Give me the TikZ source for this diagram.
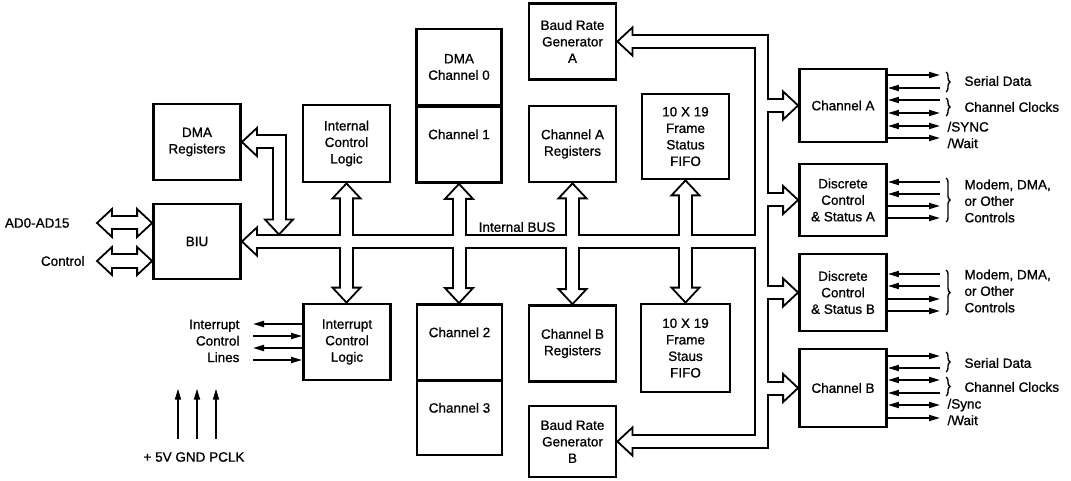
\documentclass[tikz,border=0pt]{standalone}
\usepackage{fontspec}
\setmainfont{Liberation Sans}[FakeBold=0.9]
\usetikzlibrary{calc,arrows.meta,decorations.pathreplacing}

\tikzset{
  blk/.style={draw, line width=2.8pt, minimum width=87pt, minimum height=76pt,
    align=center, inner sep=0pt},
  pipeout/.style={line width=15pt, line join=miter},
  pipein/.style={white, line width=11pt, line join=miter,
    shorten <=-3pt, shorten >=-3pt},
  wire/.style={line width=1.8pt, >={Triangle[length=11pt,width=6pt]}},
  brc/.style={decorate, decoration={brace, amplitude=4pt}, line width=1.4pt},
  fathead/.pic={\draw[fill=white, line width=1.8pt, line join=miter]
    (0,0) -- (-15,14) -- (-15,-14) -- cycle;},
}

% hollow bus arrows: called once for the outline, once for the inside
\newcommand\buspipes[1]{%
  \draw[#1] ($(biu.east)+(15,0)$) -- (biu.east -| rpipe);
  \draw[#1] ($(brga.east)+(15,0)$) -- (brga.east -| rpipe)
    -- (brgb.east -| rpipe) -- ($(brgb.east)+(15,0)$);
  \foreach \bx in {cha,dsa,dsb,chb}
    \draw[#1] (\bx.west -| rpipe) -- ($(\bx.west)+(-15,0)$);
  \foreach \hi/\lo in {icl/intl,ch1/ch2,chareg/chbreg,fifoa/fifob}
    \draw[#1] ($(\hi.south)+(0,15)$) -- ($(\hi.south |- \lo.north)+(0,-15)$);
  \draw[#1] ($(dmareg.east)+(15,0)$) -| ($(dmadrop)+(0,-15)$);
  \draw[#1] ($(adtip)+(15,0)$) -- ($(biu.west |- adtip)+(-15,0)$);
  \draw[#1] ($(cttip)+(15,0)$) -- ($(biu.west |- cttip)+(-15,0)$);
}

\begin{document}
\begin{tikzpicture}[x=1pt, y=-1pt, every node/.style={font=\fontsize{13.5}{16.5}\selectfont}]
  \useasboundingbox (0,0) rectangle (1071,481);

  % blocks
  \node[blk] (dmareg) at (197,142) {DMA\\Registers};
  \node[blk, minimum height=75pt] (biu) at (197,241.5) {BIU};
  \node[blk, minimum height=77pt] (icl) at (346.5,143.5) {Internal\\Control\\Logic};
  \node[blk, minimum width=85pt] (dma0) at (459,67) {DMA\\Channel 0};
  \node[blk, minimum width=85pt] (ch1) at (459,144.5) {Channel 1\\[4pt]};
  \node[blk] (brga) at (572.5,41.5) {Baud Rate\\Generator\\A};
  \node[blk] (chareg) at (572.5,144) {Channel A\\Registers};
  \node[blk, minimum height=85pt] (fifoa) at (685.5,136.5) {10 X 19\\Frame\\Status\\FIFO};
  \node[blk] (intl) at (347,342) {Interrupt\\Control\\Logic};
  \node[blk, minimum width=85pt] (ch2) at (459.5,342.5) {Channel 2\\[4pt]};
  \node[blk, minimum width=85pt, minimum height=74pt] (ch3) at (459.5,418) {Channel 3\\[4pt]};
  \node[blk] (chbreg) at (572.5,343.5) {Channel B\\Registers};
  \node[blk, minimum height=71pt] (brgb) at (572.5,441.5) {Baud Rate\\Generator\\B};
  \node[blk, minimum width=89pt, minimum height=88pt] (fifob) at (685.5,348) {10 X 19\\Frame\\Staus\\FIFO};
  \node[blk, minimum height=73pt] (cha) at (843,105.5) {Channel A};
  \node[blk, minimum height=72pt] (dsa) at (843,200) {Discrete\\Control\\\& Status A};
  \node[blk, minimum height=77pt] (dsb) at (843,292.5) {Discrete\\Control\\\& Status B};
  \node[blk, minimum height=78pt] (chb) at (843,388) {Channel B};

  \coordinate (rpipe) at (761,0);
  \coordinate (dmadrop) at (279,234.5);
  \coordinate (adtip) at (97,223);
  \coordinate (cttip) at (97,261);

  % internal bus
  \buspipes{pipeout}
  \pic[rotate=180] at (biu.east) {fathead};
  \pic[rotate=180] at (brga.east) {fathead};
  \pic[rotate=180] at (brgb.east) {fathead};
  \foreach \bx in {cha,dsa,dsb,chb} \pic at (\bx.west) {fathead};
  \foreach \hi/\lo in {icl/intl,ch1/ch2,chareg/chbreg,fifoa/fifob} {
    \pic[rotate=90] at (\hi.south) {fathead};
    \pic[rotate=-90] at (\hi.south |- \lo.north) {fathead};
  }
  \pic[rotate=180] at (dmareg.east) {fathead};
  \pic[rotate=-90] at (dmadrop) {fathead};
  \pic[rotate=180] at (adtip) {fathead};
  \pic at (biu.west |- adtip) {fathead};
  \pic[rotate=180] at (cttip) {fathead};
  \pic at (biu.west |- cttip) {fathead};
  \buspipes{pipein}
  \node (bus) at (517,227) {Internal BUS};

  % left side
  \node[anchor=east] (ad) at (73,223) {AD0-AD15};
  \node[anchor=east] (ctl) at (88,261) {Control};
  \node[anchor=east, align=right] (irq) at (243,341) {Interrupt\\Control\\Lines};
  \foreach \y/\s in {324/<-,336/->,348/<-,360/->}
    \draw[wire,\s] ($(irq.east |- 0,\y)+(10,0)$) -- (intl.west |- 0,\y);
  \node (pwr) at (194,457) {+ 5V GND PCLK};
  \foreach \x in {178,197,216}
    \draw[wire,->] ($(\x,0 |- pwr.north)+(0,-10)$) -- ++(0,-50);

  % right side
  \foreach \y/\s in {75/->,88/<-,100/<-,113/<->,126/<->,138/->}
    \draw[wire,\s] (cha.east |- 0,\y) -- (940,\y);
  \foreach \y/\s in {182/<-,194/<-,206/->,218/->}
    \draw[wire,\s] (dsa.east |- 0,\y) -- (940,\y);
  \foreach \y/\s in {274/<-,286/<-,299/->,311/->}
    \draw[wire,\s] (dsb.east |- 0,\y) -- (940,\y);
  \foreach \y/\s in {356/->,368/<-,380/<->,393/<-,405/<->,418/->}
    \draw[wire,\s] (chb.east |- 0,\y) -- (940,\y);

  \draw[brc] (946,72) -- (946,92);
  \draw[brc] (946,98) -- (946,116);
  \draw[brc] (946,178) -- (946,222);
  \draw[brc] (946,270) -- (946,315);
  \draw[brc] (946,352) -- (946,372);
  \draw[brc] (946,377) -- (946,396);
  \node[anchor=west] (sda) at (961,81) {Serial Data};
  \node[anchor=west] (cka) at (961,107) {Channel Clocks};
  \node[anchor=west, align=left] (sya) at (944,135) {/SYNC\\/Wait};
  \node[anchor=west, align=left] (mda) at (961,201) {Modem, DMA,\\or Other\\Controls};
  \node[anchor=west, align=left] (mdb) at (961,291) {Modem, DMA,\\or Other\\Controls};
  \node[anchor=west] (sdb) at (961,363) {Serial Data};
  \node[anchor=west] (ckb) at (961,387) {Channel Clocks};
  \node[anchor=west, align=left] (syb) at (944,412) {/Sync\\/Wait};
\end{tikzpicture}
\end{document}
